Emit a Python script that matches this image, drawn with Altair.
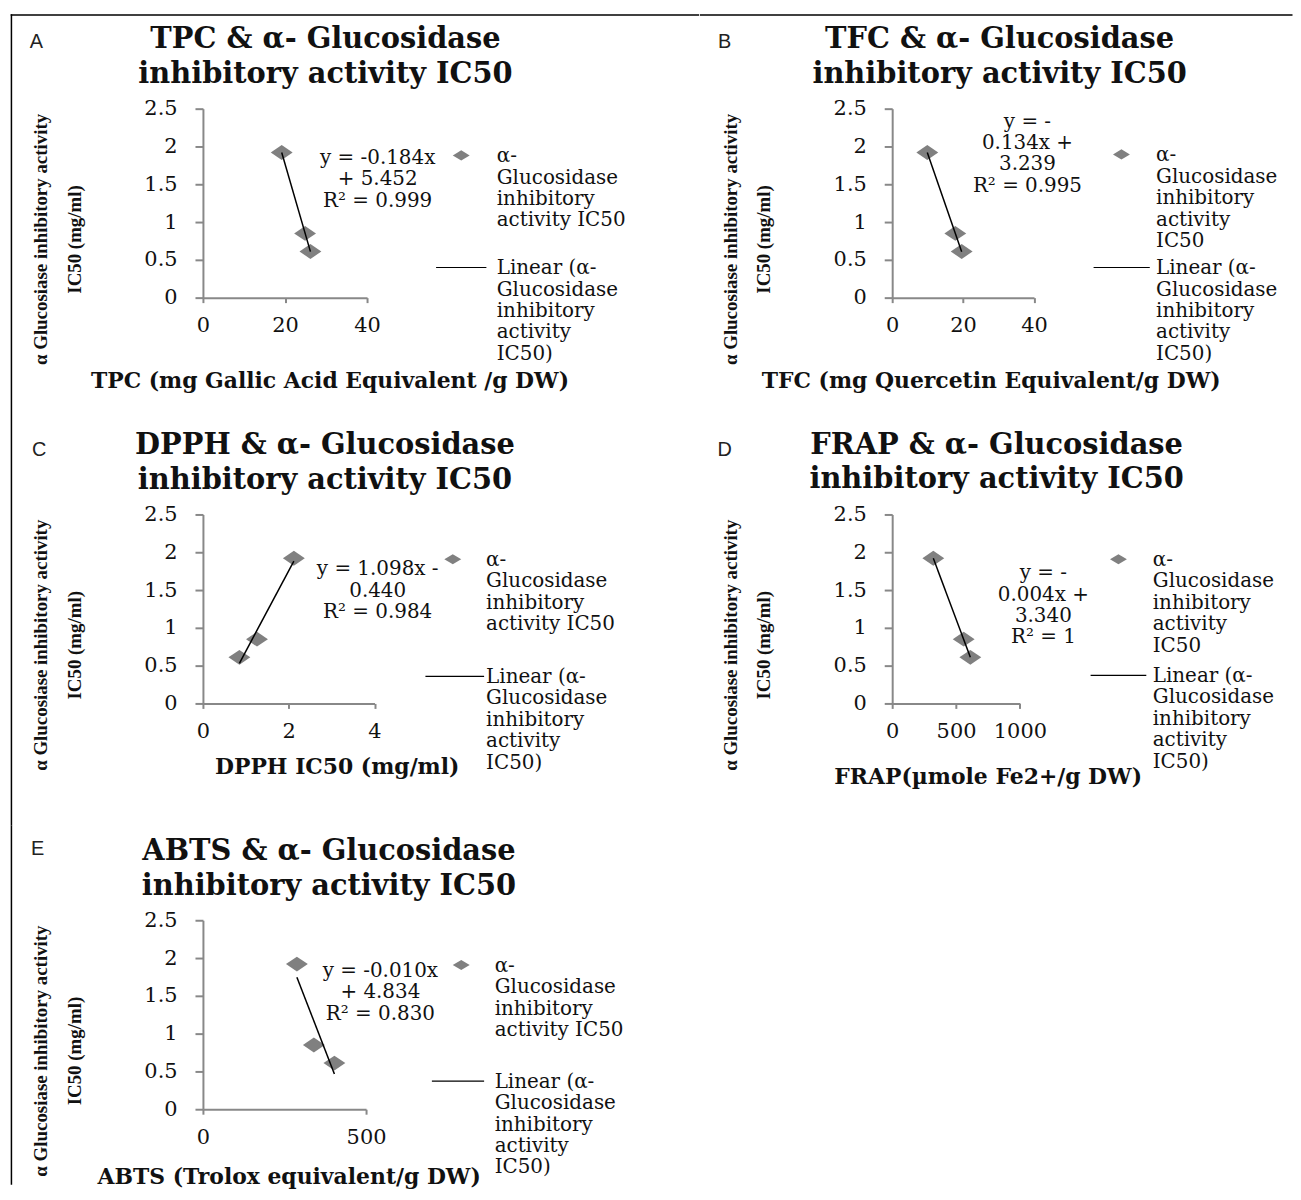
import altair as alt
import pandas as pd

# ---------------- data ----------------
ic50 = [1.92, 0.85, 0.61]          # alpha-glucosidase inhibitory activity IC50 (mg/ml)
tpc = [19.2, 24.9, 26.2]           # TPC (mg GAE / g DW)
tfc = [9.9, 17.8, 19.6]            # TFC (mg QE / g DW)
dpph = [2.12, 1.26, 0.85]          # DPPH IC50 (mg/ml)
frap = [322, 560, 612]             # FRAP (umole Fe2+/g DW)
abts = [288, 340, 403]             # ABTS (Trolox equivalent/g DW)

letters = ["A", "B", "C", "D", "E"]
names = ["TPC", "TFC", "DPPH", "FRAP", "ABTS"]
x_series = [tpc, tfc, dpph, frap, abts]
x_titles = [
    "TPC (mg Gallic Acid Equivalent /g DW)",
    "TFC (mg Quercetin Equivalent/g DW)",
    "DPPH IC50 (mg/ml)",
    "FRAP(µmole Fe2+/g DW)",
    "ABTS (Trolox equivalent/g DW)",
]
x_domains = [[0, 40], [0, 40], [0, 4], [0, 1000], [0, 500]]
x_ticks = [[0, 20, 40], [0, 20, 40], [0, 2, 4], [0, 500, 1000], [0, 500]]
y_ticks = [0, 0.5, 1, 1.5, 2, 2.5]
y_title = ["α Glucosiase inhibitory activity", "IC50 (mg/ml)"]
eq_lines = [
    ["y = -0.184x", "+ 5.452", "R² = 0.999"],
    ["y = -", "0.134x +", "3.239", "R² = 0.995"],
    ["y = 1.098x -", "0.440", "R² = 0.984"],
    ["y = -", "0.004x +", "3.340", "R² = 1"],
    ["y = -0.010x", "+ 4.834", "R² = 0.830"],
]
legend_marker_lines = [
    ["α-", "Glucosidase", "inhibitory", "activity IC50"],
    ["α-", "Glucosidase", "inhibitory", "activity", "IC50"],
    ["α-", "Glucosidase", "inhibitory", "activity IC50"],
    ["α-", "Glucosidase", "inhibitory", "activity", "IC50"],
    ["α-", "Glucosidase", "inhibitory", "activity IC50"],
]
legend_line_lines = ["Linear (α-", "Glucosidase", "inhibitory", "activity", "IC50)"]

# ---------------- layout (pixels, relative to each plot's top-left) ----------------
H = 190
LAYOUT = [
    dict(w=165.0, letter=(-167.5, -67.7), tcx=123.2, ty=-70.5, eq=(175.7, 48.7), dia=(259.7, 47),
         txt=(295.4, 47), lline=(234.4, 285, 159.7), xt=(127.2, 83), fx2=498.9, fy2=313, borders=["top", "left"]),
    dict(w=142.6, letter=(-168.5, -68), tcx=108, ty=-70.5, eq=(136, 12.3), dia=(230.5, 46),
         txt=(265.3, 46.3), lline=(202.5, 259, 159.7), xt=(99, 83), fx2=402.5, fy2=313, borders=["top"]),
    dict(w=172.5, letter=(-164.6, -65.7), tcx=122.7, ty=-70.2, eq=(175.7, 54.3), dia=(251.2, 45),
         txt=(284.7, 45), lline=(223.7, 282.7, 162.7), xt=(134.5, 63.3), fx2=498.9, fy2=313, borders=["left"]),
    dict(w=128.4, letter=(-168.5, -66), tcx=105, ty=-70.5, eq=(152, 58.3), dia=(227.5, 45),
         txt=(262, 45), lline=(199.5, 255.5, 161.7), xt=(96, 73.3), fx2=402.5, fy2=313, borders=[]),
    dict(w=164.0, letter=(-166.3, -72.6), tcx=126.7, ty=-70.1, eq=(178.4, 50), dia=(259.7, 45),
         txt=(293.3, 45), lline=(230.2, 282.7, 161.7), xt=(86.2, 68), fx2=498.9, fy2=266, borders=["left"]),
]
FX1, FY1 = -193.3, -95.0
BW = 1.5  # border width

SERIF = "DejaVu Serif"
TXT = "#111111"
AXIS_GRAY = "#888888"
POINT_GRAY = "#808080"
DIAMOND = "M-1,0L0,-0.68L1,0L0,0.68Z"
LEG_DIAMOND = "M-1,0L0,-0.6L1,0L0,0.6Z"
FS = 20          # legend / equation text
TICK_FS = 21     # tick labels
LH = 21.5

ONE = alt.Data(values=[{"k": 0}])


def text_layer(lines, x, y, fs=FS, lh=LH, align="left", bold=False, font=SERIF, color=TXT):
    return alt.Chart(ONE).mark_text(
        align=align, baseline="alphabetic", font=font, fontSize=fs,
        fontWeight="bold" if bold else "normal", lineHeight=lh, color=color,
    ).encode(x=alt.value(float(x)), y=alt.value(float(y + 0.34 * fs)), text=alt.value(list(lines)))


def rule_layer(x1, y1, x2, y2, color="black", sw=1.5):
    return alt.Chart(ONE).mark_rule(color=color, strokeWidth=sw).encode(
        x=alt.value(float(x1)), x2=alt.value(float(x2)), y=alt.value(float(y1)), y2=alt.value(float(y2)))


def box_layer(x1, y1, x2, y2, opacity=1.0, color="black"):
    return alt.Chart(ONE).mark_rect(opacity=opacity, color=color).encode(
        x=alt.value(float(x1)), x2=alt.value(float(x2)), y=alt.value(float(y1)), y2=alt.value(float(y2)))


def panel(i):
    L = LAYOUT[i]
    w = L["w"]
    df = pd.DataFrame({"x": x_series[i], "y": ic50})
    x_enc = alt.X(
        "x:Q",
        scale=alt.Scale(domain=x_domains[i], nice=False, zero=False),
        axis=alt.Axis(
            values=x_ticks[i], labelExpr="'' + datum.value", title=x_titles[i], grid=False,
            titleX=L["xt"][0], titleY=L["xt"][1], titleAlign="center", titleBaseline="middle",
            titleFont=SERIF, titleFontSize=22, titleFontWeight="bold", titleColor=TXT,
            labelFont=SERIF, labelFontSize=TICK_FS, labelColor=TXT, labelFlush=False, labelOverlap=False,
            labelBaseline="middle", labelPadding=23, tickSize=5,
            domainColor=AXIS_GRAY, tickColor=AXIS_GRAY, domainWidth=2, tickWidth=2,
        ),
    )
    y_enc = alt.Y(
        "y:Q",
        scale=alt.Scale(domain=[0, 2.5], nice=False, zero=True),
        axis=alt.Axis(
            values=y_ticks, labelExpr="'' + datum.value", title=y_title, grid=False,
            titleX=-163, titleY=131, titleAngle=270, titleAlign="center", titleBaseline="middle",
            titleLineHeight=34, titleFont="Liberation Serif", titleFontSize=19, titleFontWeight="bold",
            titleColor=TXT, labelFont=SERIF, labelFontSize=TICK_FS, labelColor=TXT, labelPadding=18,
            tickSize=8, domainColor=AXIS_GRAY, tickColor=AXIS_GRAY, domainWidth=2, tickWidth=2,
        ),
    )
    base = alt.Chart(df)
    points = base.mark_point(shape=DIAMOND, filled=True, size=484, color=POINT_GRAY, opacity=1).encode(
        x=x_enc, y=y_enc)
    trend = base.transform_regression("x", "y").mark_line(color="black", strokeWidth=1.5).encode(
        x=x_enc, y=y_enc)

    # invisible cell box fixing the panel's extent, then the figure's outer frame
    layers = [box_layer(FX1, FY1, L["fx2"], L["fy2"], opacity=0)]
    if "top" in L["borders"]:
        layers.append(box_layer(FX1, FY1, L["fx2"], FY1 + BW))
    if "left" in L["borders"]:
        layers.append(box_layer(FX1, FY1, FX1 + BW, L["fy2"]))

    layers += [points, trend]
    # trendline equation label
    layers.append(text_layer(eq_lines[i], L["eq"][0], L["eq"][1], align="center"))
    # legend: marker entry
    layers.append(
        alt.Chart(ONE).mark_point(shape=LEG_DIAMOND, filled=True, size=289, color=POINT_GRAY, opacity=1)
        .encode(x=alt.value(L["dia"][0]), y=alt.value(L["dia"][1]))
    )
    layers.append(text_layer(legend_marker_lines[i], L["txt"][0], L["txt"][1]))
    # legend: trendline entry
    lx1, lx2, ly = L["lline"]
    layers.append(rule_layer(lx1, ly, lx2, ly, color="black", sw=1.2))
    layers.append(text_layer(legend_line_lines, L["txt"][0], ly))
    # panel letter and chart title
    layers.append(text_layer([letters[i]], L["letter"][0], L["letter"][1], fs=20, align="center",
                             font="Liberation Sans", color="#222222"))
    layers.append(text_layer([f"{names[i]} & α- Glucosidase", "inhibitory activity IC50"],
                             L["tcx"], L["ty"], fs=29, lh=34.5, align="center", bold=True))
    return alt.layer(*layers).properties(width=w, height=H)


chart = alt.concat(
    *[panel(i) for i in range(5)], columns=2, spacing=0, align="each", bounds="full"
).properties(
    padding={"left": 2, "top": 3, "right": 0, "bottom": 0}, background="white"
).configure_view(strokeWidth=0)

chart.save("out.html", embed_options={"renderer": "svg", "actions": False})
